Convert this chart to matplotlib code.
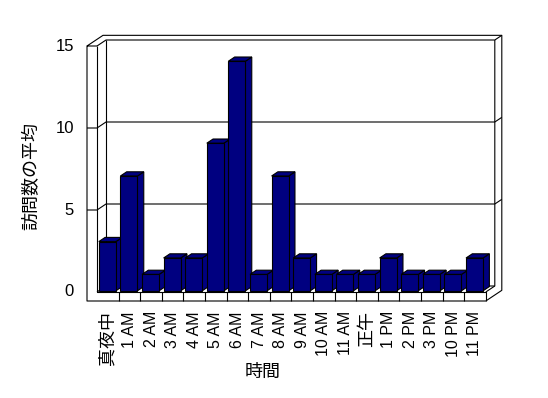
import matplotlib
matplotlib.use("Agg")
import matplotlib.pyplot as plt
from matplotlib.patches import Polygon

# data
categories = ['真夜中', '1 AM', '2 AM', '3 AM', '4 AM', '5 AM', '6 AM', '7 AM', '8 AM',
              '9 AM', '10 AM', '11 AM', '正午', '1 PM', '2 PM', '3 PM', '10 PM', '11 PM']
visits = [3, 7, 1, 2, 2, 9, 14, 1, 7, 2, 1, 1, 1, 2, 1, 1, 1, 2]
yticks = [0, 5, 10, 15]
ylabel = '訪問数の平均'
xlabel = '時間'

NAVY = '#000080'
CJK = 'Noto Sans CJK JP'
LAT = 'Liberation Sans'

# pixel sizes of the fake 3d box
CW = 21.6   # px per category
VU = 16.4   # px per value unit
DX = 9 / CW     # depth vector (x)
DY = 6 / VU     # depth vector (y, up)
T = 7 / 9       # back wall thickness (in depth units)
W = 10 / CW     # left wall thickness
F = 9 / VU      # floor thickness

n = len(categories)
ymax = yticks[-1]


def proj(x, y, z):
    return x + z * DX, y + z * DY


def line(*pts, **kw):
    xs = [proj(*p)[0] for p in pts]
    ys = [proj(*p)[1] for p in pts]
    ax.plot(xs, ys, color='black', lw=0.8, clip_on=False, solid_capstyle='butt', **kw)


fig = plt.figure(figsize=(5.48, 3.98), dpi=100)
ax = fig.add_axes([97 / 548, (398 - 292) / 398, n * CW / 548, ymax * VU / 398])
ax.set_xlim(0, n)
ax.set_ylim(0, ymax)
ax.axis('off')

# outer silhouette of walls + floor
line((-W, ymax, 0), (-W, ymax, 1 + T), (n, ymax, 1 + T), (n, -F, 1 + T),
     (n, -F, 0), (-W, -F, 0), (-W, ymax, 0), (0, ymax, 0))
# inner edges
line((0, ymax, 0), (0, ymax, 1), (n, ymax, 1), (n, ymax, 1 + T))
line((0, ymax, 0), (0, 0, 0), (n, 0, 0), (n, -F, 0))
line((0, 0, 1), (0, ymax, 1))
line((n, 0, 0), (n, 0, 1), (n, ymax, 1))
line((0, 0, 0), (0, 0, 1), (n, 0, 1))

# gridlines
for v in yticks[1:-1]:
    line((-W, v, 0), (0, v, 0), (0, v, 1), (n, v, 1), (n, v, 1 + T))

# category ticks on the floor front
for i in range(1, n):
    line((i, 0, 0), (i, -F, 0))

# bars
zb0, zb1, bw = 0.2, 0.9, 0.79
d = zb1 - zb0
x0 = [i + zb0 * DX for i in range(n)]
bars = ax.bar(x0, visits, bw, bottom=zb0 * DY, align='edge', color=NAVY,
              edgecolor='black', linewidth=0.8, clip_on=False)
for i, (rect, v) in enumerate(zip(bars, visits)):
    rect.set_zorder(10 + 2 * i + 1)
    xl, yb = x0[i], zb0 * DY
    xr, yt = xl + bw, yb + v
    side = [(xr, yb), (xr, yt), (xr + d * DX, yt + d * DY), (xr + d * DX, yb + d * DY)]
    top = [(xl, yt), (xr, yt), (xr + d * DX, yt + d * DY), (xl + d * DX, yt + d * DY)]
    for poly in (side, top):
        ax.add_patch(Polygon(poly, closed=True, facecolor=NAVY, edgecolor='black',
                             linewidth=0.8, clip_on=False, zorder=10 + 2 * i))

# tick labels
for i, lab in enumerate(categories):
    is_cjk = not lab.isascii()
    ax.text(i + 0.5, -F - 10 / VU, lab, rotation=90, ha='center', va='top',
            family=CJK if is_cjk else LAT, fontsize=13 if is_cjk else 11.5)
for v in yticks:
    ax.text(-W - 13 / CW, v, str(v), ha='right', va='center', family=LAT, fontsize=12)

fig.text(31 / 548, 1 - 176 / 398, ylabel, rotation=90, ha='center', va='center',
         family=CJK, fontsize=13)
fig.text(262.5 / 548, 1 - 372 / 398, xlabel, ha='center', va='center',
         family=CJK, fontsize=13)

fig.savefig('out.png', dpi=100)
